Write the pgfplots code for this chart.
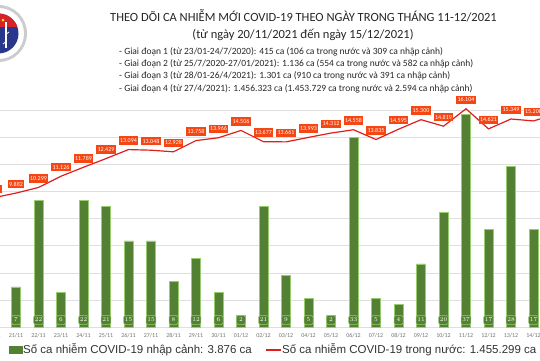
\documentclass[border=0pt]{standalone}
\usepackage{fontspec}
\setmainfont{Carlito}
\newfontfamily\arialf{Liberation Sans}
\usepackage{pgfplots}
\usepackage{pgfplotstable}
\pgfplotsset{compat=1.18}
\definecolor{barg}{RGB}{84,128,52}
\definecolor{barl}{RGB}{150,205,110}
\definecolor{linered}{RGB}{225,30,30}
\definecolor{lblred}{RGB}{245,70,20}
\definecolor{logoblue}{RGB}{40,55,140}
\definecolor{logored}{RGB}{215,35,40}

\pgfplotstableread{
i lab nk tn tl
0 20/11 12 9538 9.538
1 21/11 7 9882 9.882
2 22/11 22 10299 10.299
3 23/11 6 11126 11.126
4 24/11 22 11789 11.789
5 25/11 21 12429 12.429
6 26/11 15 13094 13.094
7 27/11 15 13048 13.048
8 28/11 8 12928 12.928
9 29/11 12 13758 13.758
10 30/11 6 13966 13.966
11 01/12 2 14506 14.506
12 02/12 21 13677 13.677
13 03/12 9 13661 13.661
14 04/12 5 13993 13.993
15 05/12 2 14312 14.312
16 06/12 33 14558 14.558
17 07/12 5 13835 13.835
18 08/12 4 14595 14.595
19 09/12 11 15300 15.300
20 10/12 20 14819 14.819
21 11/12 37 16104 16.104
22 12/12 17 14621 14.621
23 13/12 28 15349 15.349
24 14/12 17 15208 15.208
25 15/12 20 15700 15.700
}\data

\begin{document}
\begin{tikzpicture}
\useasboundingbox (0,0) rectangle (540pt,360pt);
\clip (0,0) rectangle (540pt,360pt);
\fill[white] (0,0) rectangle (540pt,360pt);

% logo (decorative)
\fill[gray!40] (-1.5pt,326.5pt) circle (28.5pt);
\fill[white] (-1.5pt,326.5pt) circle (25.5pt);
\fill[logoblue] (-1.5pt,326.5pt) circle (20pt);
\begin{scope}
\clip (-1.5pt,326.5pt) circle (20pt);
\fill[logored] (-30pt,333pt) rectangle (30pt,350pt);
\end{scope}
\fill[yellow!90!orange] (3pt,340pt) circle (1.5pt);
\draw[white, line width=1.2pt] (6pt,312pt) -- (6pt,338pt);
\draw[white, line width=0.8pt] (3pt,316pt) .. controls (10pt,320pt) and (2pt,324pt) .. (9pt,328pt);

% grid + x tick labels
\begin{axis}[
  at={(-17.75pt,33pt)}, anchor=south west,
  scale only axis, width=585pt, height=234pt,
  xmin=-0.5, xmax=25.5, ymin=0, ymax=17269,
  axis line style={draw=none},
  tick style={draw=none}, major tick length=0pt,
  scaled y ticks=false,
  ytick={0,2000,...,16000}, yticklabels={},
  ymajorgrids, grid style={gray!25, line width=0.6pt},
  xtick=data, xticklabels from table={\data}{lab},
  xticklabel style={font=\fontsize{6}{7}\selectfont, text=black!55, anchor=center, yshift=-9pt},
]
\addplot[draw=none, mark=none] table[x=i, y=tn] {\data};
\end{axis}

% bars
\begin{axis}[
  at={(-17.75pt,33pt)}, anchor=south west,
  scale only axis, width=585pt, height=234pt,
  xmin=-0.5, xmax=25.5, ymin=0, ymax=40.77,
  hide axis,
]
\addplot[ybar, bar width=9pt, bar shift=0pt, fill=barg, draw=barl, line width=0.6pt]
  table[x=i, y=nk] {\data};
\addplot[draw=none, mark=none, nodes near coords, point meta=explicit,
  every node near coord/.append style={anchor=center, yshift=7pt,
    font=\fontsize{6}{7}\selectfont, text=white, fill=barg, draw=barl,
    rounded corners=1.5pt, inner sep=1.2pt, minimum width=9pt, minimum height=9pt, line width=0.5pt}]
  table[x=i, y expr=0, meta=nk] {\data};
\end{axis}

% line
\begin{axis}[
  at={(-17.75pt,33pt)}, anchor=south west,
  scale only axis, width=585pt, height=234pt,
  xmin=-0.5, xmax=25.5, ymin=0, ymax=17269,
  hide axis,
]
\addplot[color=linered, line width=1.2pt, mark=none, nodes near coords, point meta=explicit symbolic,
  every node near coord/.append style={anchor=center, yshift=9pt,
    font=\fontsize{6}{7}\selectfont, text=white, fill=lblred,
    inner sep=1.3pt, minimum height=8.5pt}]
  table[x=i, y=tn, meta=tl] {\data};
\end{axis}

% titles
\node[font=\fontsize{12.5}{14}\selectfont, text=black!85] at (303.5pt,344pt)
  {THEO DÕI CA NHIỄM MỚI COVID-19 THEO NGÀY TRONG THÁNG 11-12/2021};
\node[font=\fontsize{12.5}{14}\selectfont, text=black!85] at (303pt,325pt)
  {(từ ngày 20/11/2021 đến ngày 15/12/2021)};
\begin{scope}[every node/.style={anchor=west, font=\fontsize{9.5}{11}\selectfont, text=black!85, inner sep=0pt}]
\node at (119pt,308pt) {- Giai đoạn 1 (từ 23/01-24/7/2020): 415 ca (106 ca trong nước và 309 ca nhập cảnh)};
\node at (119pt,296pt) {- Giai đoạn 2 (từ 25/7/2020-27/01/2021): 1.136 ca (554 ca trong nước và 582 ca nhập cảnh)};
\node at (119pt,284pt) {- Giai đoạn 3 (từ 28/01-26/4/2021): 1.301 ca (910 ca trong nước và 391 ca nhập cảnh)};
\node at (119pt,271pt) {- Giai đoạn 4 (từ 27/4/2021): 1.456.323 ca (1.453.729 ca trong nước và 2.594 ca nhập cảnh)};
\end{scope}

% legend
\fill[barg] (9pt,6pt) rectangle (22.5pt,14pt);
\node[anchor=west, inner sep=0pt, font=\arialf\fontsize{11.5}{13}\selectfont, text=black!80] at (23pt,10pt)
  {Số ca nhiễm COVID-19 nhập cảnh: 3.876 ca};
\draw[linered, line width=1.3pt] (266pt,10pt) -- (281pt,10pt);
\node[anchor=west, inner sep=0pt, font=\arialf\fontsize{11.5}{13}\selectfont, text=black!80] at (282pt,10pt)
  {Số ca nhiễm COVID-19 trong nước: 1.455.299 ca};
\end{tikzpicture}
\end{document}
